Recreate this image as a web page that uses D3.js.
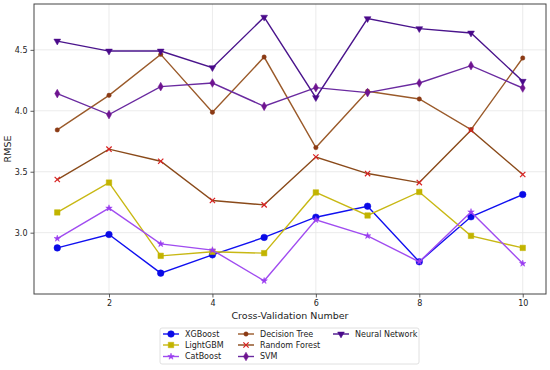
<!DOCTYPE html>
<html>
<head>
<meta charset="UTF-8">
<script src="https://d3js.org/d3.v7.min.js"></script>
<style>
  body { margin: 0; background: white; }
  text { font-family: "DejaVu Sans", sans-serif; fill: #222; }
</style>
</head>
<body>
<svg id="chart" width="550" height="370"></svg>
<script>
const folds = [1, 2, 3, 4, 5, 6, 7, 8, 9, 10];
const xgboost = [2.875, 2.985, 2.668, 2.818, 2.961, 3.127, 3.217, 2.761, 3.130, 3.313];
const lightgbm = [3.166, 3.411, 2.810, 2.843, 2.832, 3.330, 3.141, 3.334, 2.974, 2.875];
const catboost = [2.952, 3.201, 2.908, 2.857, 2.605, 3.105, 2.974, 2.761, 3.170, 2.747];
const decisionTree = [3.843, 4.127, 4.463, 3.988, 4.441, 3.698, 4.160, 4.097, 3.846, 4.433];
const randomForest = [3.436, 3.685, 3.586, 3.264, 3.228, 3.621, 3.485, 3.411, 3.840, 3.477];
const svm = [4.141, 3.969, 4.198, 4.228, 4.037, 4.190, 4.149, 4.228, 4.370, 4.187];
const neuralNet = [4.572, 4.490, 4.490, 4.354, 4.768, 4.108, 4.756, 4.674, 4.638, 4.242];
const xTicks = [2, 4, 6, 8, 10];
const yTicks = [3.0, 3.5, 4.0, 4.5];

const series = [
  { name: "XGBoost", values: xgboost, color: "#1010f0", mark: "#0a0ae6", sym: d3.symbolCircle, size: 34 },
  { name: "LightGBM", values: lightgbm, color: "#c8b814", mark: "#c2b400", sym: d3.symbolSquare, size: 30 },
  { name: "CatBoost", values: catboost, color: "#a04cf0", mark: "#9a3cf0", sym: d3.symbolStar, size: 13 },
  { name: "Decision Tree", values: decisionTree, color: "#9a5a2a", mark: "#8b3a14", sym: d3.symbolCircle, size: 15 },
  { name: "Random Forest", values: randomForest, color: "#8a4a1a", mark: "#d82020", sym: d3.symbolTimes || d3.symbolCross, size: 20 },
  { name: "SVM", values: svm, color: "#6a2aa0", mark: "#6e1490", sym: d3.symbolDiamond, size: 22 },
  { name: "Neural Network", values: neuralNet, color: "#4a148c", mark: "#4a0a8a", sym: d3.symbolTriangle, size: 20, flip: true }
];

const svg = d3.select("#chart");
const margin = { top: 4, right: 4, bottom: 76, left: 34 };
const W = 550, H = 370;

const x = d3.scaleLinear().domain([0.55, 10.45]).range([margin.left, W - margin.right]);
const all = series.flatMap(s => s.values);
const [lo, hi] = d3.extent(all);
const pad = (hi - lo) * 0.05;
const y = d3.scaleLinear().domain([lo - pad, hi + pad]).range([H - margin.bottom, margin.top]);

// grid
svg.append("g").selectAll("line").data(xTicks).join("line")
  .attr("x1", d => x(d)).attr("x2", d => x(d))
  .attr("y1", margin.top).attr("y2", H - margin.bottom)
  .attr("stroke", "#e6e6e6").attr("stroke-width", 0.8);
svg.append("g").selectAll("line").data(yTicks).join("line")
  .attr("x1", margin.left).attr("x2", W - margin.right)
  .attr("y1", d => y(d)).attr("y2", d => y(d))
  .attr("stroke", "#e6e6e6").attr("stroke-width", 0.8);

// axes
const xAxis = svg.append("g").attr("transform", `translate(0,${H - margin.bottom})`)
  .call(d3.axisBottom(x).tickValues(xTicks).tickFormat(d3.format("d")).tickSize(3.5).tickPadding(3));
const yAxis = svg.append("g").attr("transform", `translate(${margin.left},0)`)
  .call(d3.axisLeft(y).tickValues(yTicks).tickFormat(d3.format(".1f")).tickSize(3.5).tickPadding(3));
[xAxis, yAxis].forEach(a => {
  a.select(".domain").remove();
  a.selectAll("text").style("font-size", "8px").attr("fill", "#222");
  a.selectAll("line").attr("stroke", "#333").attr("stroke-width", 0.8);
});

// frame
svg.append("rect")
  .attr("x", margin.left).attr("y", margin.top)
  .attr("width", W - margin.left - margin.right)
  .attr("height", H - margin.top - margin.bottom)
  .attr("fill", "none").attr("stroke", "#444").attr("stroke-width", 1);

// axis labels
svg.append("text")
  .attr("x", (margin.left + W - margin.right) / 2).attr("y", 319)
  .attr("text-anchor", "middle").style("font-size", "9.5px")
  .text("Cross-Validation Number");
svg.append("text")
  .attr("transform", `translate(11,${(margin.top + H - margin.bottom) / 2}) rotate(-90)`)
  .attr("text-anchor", "middle").style("font-size", "9.5px")
  .text("RMSE");

// lines + markers
const line = d3.line().x((d, i) => x(folds[i])).y(d => y(d));
series.forEach(s => {
  svg.append("path").datum(s.values)
    .attr("fill", "none").attr("stroke", s.color).attr("stroke-width", 1.4)
    .attr("d", line);
  const sym = d3.symbol().type(s.sym).size(s.size);
  svg.append("g").selectAll("path").data(s.values).join("path")
    .attr("transform", (d, i) => `translate(${x(folds[i])},${y(d)})` + (s.flip ? " rotate(180)" : ""))
    .attr("d", sym)
    .attr("fill", s.mark)
    .attr("stroke", s.mark)
    .attr("stroke-width", s.name === "Random Forest" ? 1.2 : 0.5);
});

// legend
const lg = svg.append("g");
lg.append("rect")
  .attr("x", 160).attr("y", 328).attr("width", 259).attr("height", 36)
  .attr("fill", "white").attr("stroke", "#d8d8d8").attr("stroke-width", 0.8).attr("rx", 2);
const colX = [163, 238, 333];
const rowY = [334, 345, 356.5];
series.forEach((s, i) => {
  const col = Math.floor(i / 3), row = i % 3;
  const gx = colX[col], gy = rowY[row];
  const g = lg.append("g").attr("transform", `translate(${gx},${gy})`);
  g.append("line").attr("x1", 0).attr("x2", 16).attr("y1", 0).attr("y2", 0)
    .attr("stroke", s.color).attr("stroke-width", 1.4);
  g.append("path")
    .attr("transform", "translate(8,0)" + (s.flip ? " rotate(180)" : ""))
    .attr("d", d3.symbol().type(s.sym).size(s.size))
    .attr("fill", s.mark).attr("stroke", s.mark)
    .attr("stroke-width", s.name === "Random Forest" ? 1.2 : 0.5);
  g.append("text").attr("x", 22).attr("y", 0).attr("dy", "0.35em")
    .style("font-size", "8px").text(s.name);
});
</script>
</body>
</html>
